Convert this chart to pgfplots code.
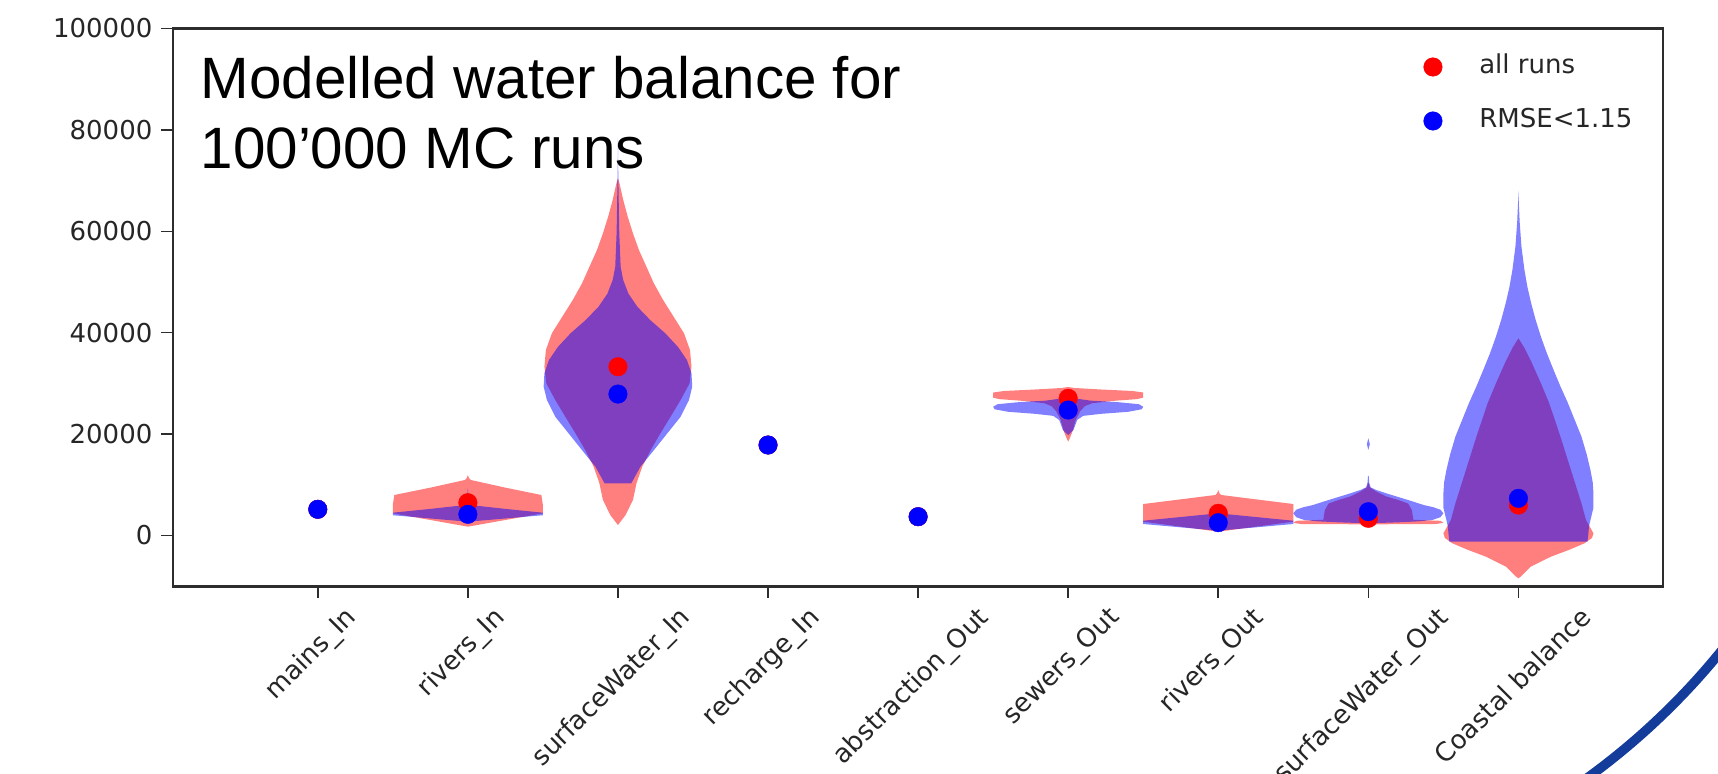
\documentclass[border=0pt]{standalone}
\usepackage{fontspec}
\setmainfont{DejaVu Sans}
\newfontfamily\arialfont{Liberation Sans}
\usepackage{graphicx}
\usepackage{pgfplots}
\pgfplotsset{compat=1.18}
\definecolor{arcblue}{RGB}{20,60,155}
\definecolor{axgray}{RGB}{45,45,45}
\newcommand{\tickfont}{\fontsize{7.4}{8.5}\selectfont}
\begin{document}
\begin{tikzpicture}
\path[use as bounding box] (0,0) rectangle (17.18,7.73);
\clip (0,0) rectangle (17.18,7.73);
\begin{axis}[
  at={(1.731cm,1.868cm)}, anchor=south west,
  scale only axis, width=14.90cm, height=5.577cm,
  xmin=0.036, xmax=9.964, ymin=-10000, ymax=100000,
  axis line style={axgray, line width=0.75pt},
  tick pos=left, tick align=outside, major tick length=0.12cm,
  tick style={axgray, line width=0.45pt},
  xtick={1,2,3,4,5,6,7,8,9},
  xticklabels={\rotatebox{45}{mains\_In},\rotatebox{45}{rivers\_In},\rotatebox{45}{surfaceWater\_In},\rotatebox{45}{recharge\_In},\rotatebox{45}{abstraction\_Out},\rotatebox{45}{sewers\_Out},\rotatebox{45}{rivers\_Out},\rotatebox{45}{surfaceWater\_Out},\rotatebox{45}{Coastal balance}},
  xticklabel style={anchor=north, inner sep=0pt, font=\tickfont, text=black!85, yshift=-0.06cm, xshift=-0.06cm},
  ytick={0,20000,40000,60000,80000,100000},
  scaled y ticks=false,
  /pgf/number format/assume math mode=true,
  yticklabel style={/pgf/number format/fixed, /pgf/number format/1000 sep={}, font=\tickfont, text=black!85, anchor=east, inner sep=0pt, xshift=-0.08cm},
  legend style={at={(0.8393,0.9534)}, anchor=north west, draw=none, fill=none, inner sep=0pt, outer sep=0pt, row sep=0.29cm, font=\tickfont, text=black!85, nodes={inner sep=0pt, text height=0.19cm, text depth=0.06cm}, /tikz/every odd column/.append style={column sep=0.37cm}},
  legend cell align=left,
  legend image code/.code={\draw[#1] plot coordinates {(0cm,0cm)};},
]
% ---- red violins (all runs)
\addplot[forget plot, draw=none, fill=red, fill opacity=0.5] coordinates {(2,1740) (2.25,3060) (2.5,4380) (2.5,6000) (2.49,7990) (2.245,9470) (2.02,10950) (2.008,11300) (2,11900) (1.992,11300) (1.98,10950) (1.755,9470) (1.51,7990) (1.5,6000) (1.5,4380) (1.75,3060)} --cycle;
\addplot[forget plot, draw=none, fill=red, fill opacity=0.5] coordinates {(3,2070) (3.05,4000) (3.1,7000) (3.124,10350) (3.162,13570) (3.218,16860) (3.284,20200) (3.35,23400) (3.417,26700) (3.477,30000) (3.49,33300) (3.48,36600) (3.44,39900) (3.37,43200) (3.3,46500) (3.24,49700) (3.19,53000) (3.14,56300) (3.1,59600) (3.065,62900) (3.035,66200) (3.01,69500) (3,70500) (2.99,69500) (2.965,66200) (2.935,62900) (2.9,59600) (2.86,56300) (2.81,53000) (2.76,49700) (2.7,46500) (2.63,43200) (2.56,39900) (2.52,36600) (2.51,33300) (2.523,30000) (2.583,26700) (2.65,23400) (2.716,20200) (2.782,16860) (2.838,13570) (2.876,10350) (2.9,7000) (2.95,4000)} --cycle;
\addplot[forget plot, draw=none, fill=red, fill opacity=0.5] coordinates {(6,18500) (6.015,19500) (6.032,20800) (6.05,22800) (6.08,24500) (6.11,25500) (6.16,26100) (6.32,26600) (6.46,26900) (6.5,27200) (6.5,28200) (6.43,28500) (6.22,28800) (6.04,29100) (6,29300) (5.96,29100) (5.78,28800) (5.57,28500) (5.5,28200) (5.5,27200) (5.54,26900) (5.68,26600) (5.84,26100) (5.89,25500) (5.92,24500) (5.95,22800) (5.968,20800) (5.985,19500)} --cycle;
\addplot[forget plot, draw=none, fill=red, fill opacity=0.5] coordinates {(7,750) (7.25,1740) (7.5,2730) (7.5,6210) (7.26,7100) (7.02,7990) (7.008,8300) (7,8970) (6.992,8300) (6.98,7990) (6.74,7100) (6.5,6210) (6.5,2730) (6.75,1740)} --cycle;
\addplot[forget plot, draw=none, fill=red, fill opacity=0.5] coordinates {(8,2200) (8.45,2270) (8.5,2500) (8.48,2900) (8.3,3100) (8.29,5000) (8.265,6300) (8.2,7000) (8.12,7700) (8.05,8700) (8.01,9500) (8,10500) (7.99,9500) (7.95,8700) (7.88,7700) (7.8,7000) (7.735,6300) (7.71,5000) (7.7,3100) (7.52,2900) (7.5,2500) (7.55,2270)} --cycle;
\addplot[forget plot, draw=none, fill=red, fill opacity=0.5] coordinates {(9,-8440) (9.016,-8100) (9.082,-6150) (9.216,-4180) (9.34,-2800) (9.44,-1540) (9.49,-500) (9.5,430) (9.48,1500) (9.45,3060) (9.42,6350) (9.35,12900) (9.28,19500) (9.205,26100) (9.15,30000) (9.09,34000) (9.04,37000) (9,38900) (8.96,37000) (8.91,34000) (8.85,30000) (8.795,26100) (8.72,19500) (8.65,12900) (8.58,6350) (8.55,3060) (8.52,1500) (8.5,430) (8.51,-500) (8.56,-1540) (8.66,-2800) (8.784,-4180) (8.918,-6150) (8.984,-8100)} --cycle;
% ---- blue violins (RMSE<1.15)
\addplot[forget plot, draw=none, fill=blue, fill opacity=0.5] coordinates {(2,2720) (2.25,3360) (2.5,4000) (2.5,4500) (2.25,5250) (2.02,6000) (2.005,7500) (2,9400) (1.995,7500) (1.98,6000) (1.75,5250) (1.5,4500) (1.5,4000) (1.75,3360)} --cycle;
\addplot[forget plot, draw=none, fill=blue, fill opacity=0.5] coordinates {(3,10300) (3.089,10300) (3.15,13570) (3.24,16860) (3.33,20200) (3.417,23400) (3.473,26700) (3.495,29350) (3.49,32000) (3.46,34600) (3.4,37200) (3.315,39900) (3.215,42500) (3.13,45100) (3.07,47700) (3.035,50400) (3.018,53000) (3.009,59600) (3.005,66200) (3.002,72000) (3,78500) (2.998,72000) (2.995,66200) (2.991,59600) (2.982,53000) (2.965,50400) (2.93,47700) (2.87,45100) (2.785,42500) (2.685,39900) (2.6,37200) (2.54,34600) (2.51,32000) (2.505,29350) (2.527,26700) (2.583,23400) (2.67,20200) (2.76,16860) (2.85,13570) (2.911,10300)} --cycle;
\addplot[forget plot, draw=none, fill=blue, fill opacity=0.5] coordinates {(6,19800) (6.035,20800) (6.06,22800) (6.1,23600) (6.22,24000) (6.4,24400) (6.49,24900) (6.5,25400) (6.47,25900) (6.33,26300) (6.15,26600) (6.03,27100) (6,27300) (5.97,27100) (5.85,26600) (5.67,26300) (5.53,25900) (5.5,25400) (5.51,24900) (5.6,24400) (5.78,24000) (5.9,23600) (5.94,22800) (5.965,20800)} --cycle;
\addplot[forget plot, draw=none, fill=blue, fill opacity=0.5] coordinates {(7,950) (7.25,1610) (7.5,2270) (7.5,2920) (7.25,3650) (7,4380) (6.75,3650) (6.5,2920) (6.5,2270) (6.75,1610)} --cycle;
\addplot[forget plot, draw=none, fill=blue, fill opacity=0.5] coordinates {(8,2400) (8.2,2600) (8.34,2800) (8.43,3100) (8.48,3600) (8.5,4380) (8.48,5100) (8.43,5600) (8.37,6000) (8.3,6670) (8.21,7500) (8.12,8320) (8.05,9000) (8.015,9500) (8.005,10500) (8.003,11600) (8,11800) (7.997,11600) (7.995,10500) (7.985,9500) (7.95,9000) (7.88,8320) (7.79,7500) (7.7,6670) (7.63,6000) (7.57,5600) (7.52,5100) (7.5,4380) (7.52,3600) (7.57,3100) (7.66,2800) (7.8,2600)} --cycle;
\addplot[forget plot, draw=none, fill=blue, fill opacity=0.5] coordinates {(8,16900) (8.01,18000) (8,19200) (7.99,18000)} --cycle;
\addplot[forget plot, draw=none, fill=blue, fill opacity=0.5] coordinates {(9,-1220) (9.46,-1220) (9.465,0) (9.47,1740) (9.48,3060) (9.5,5500) (9.5,8300) (9.495,10500) (9.48,12900) (9.455,16000) (9.42,19500) (9.375,22800) (9.33,26100) (9.28,29400) (9.235,32600) (9.19,35900) (9.15,39200) (9.115,42500) (9.085,45800) (9.06,49000) (9.04,52400) (9.02,57000) (9.008,62000) (9.002,66000) (9,68000) (8.998,66000) (8.992,62000) (8.98,57000) (8.96,52400) (8.94,49000) (8.915,45800) (8.885,42500) (8.85,39200) (8.81,35900) (8.765,32600) (8.72,29400) (8.67,26100) (8.625,22800) (8.58,19500) (8.545,16000) (8.52,12900) (8.505,10500) (8.5,8300) (8.5,5500) (8.52,3060) (8.53,1740) (8.535,0) (8.54,-1220)} --cycle;
% ---- central values
\addplot[only marks, mark=*, mark size=2.65pt, color=red, mark options={line width=0.1pt}] coordinates {(1,5170) (2,6470) (3,33290) (4,17850) (5,3710) (6,27060) (7,4380) (8,3390) (9,6010)};
\addlegendentry{all runs}
\addplot[only marks, mark=*, mark size=2.65pt, color=blue, mark options={line width=0.1pt}] coordinates {(1,5170) (2,4180) (3,27900) (4,17850) (5,3710) (6,24750) (7,2530) (8,4700) (9,7330)};
\addlegendentry{RMSE<1.15}
\end{axis}
\node[anchor=base west, inner sep=0pt, font=\arialfont\fontsize{16.6}{20}\selectfont] at (2.0,6.747) {Modelled water balance for};
\node[anchor=base west, inner sep=0pt, font=\arialfont\fontsize{16.6}{20}\selectfont] at (2.0,6.05) {100’000 MC runs};
\draw[arcblue, line width=0.095cm] (11.706,5.691) ++(-35:7.093) arc[start angle=-35, end angle=-57, radius=7.093cm];
\end{tikzpicture}
\end{document}
